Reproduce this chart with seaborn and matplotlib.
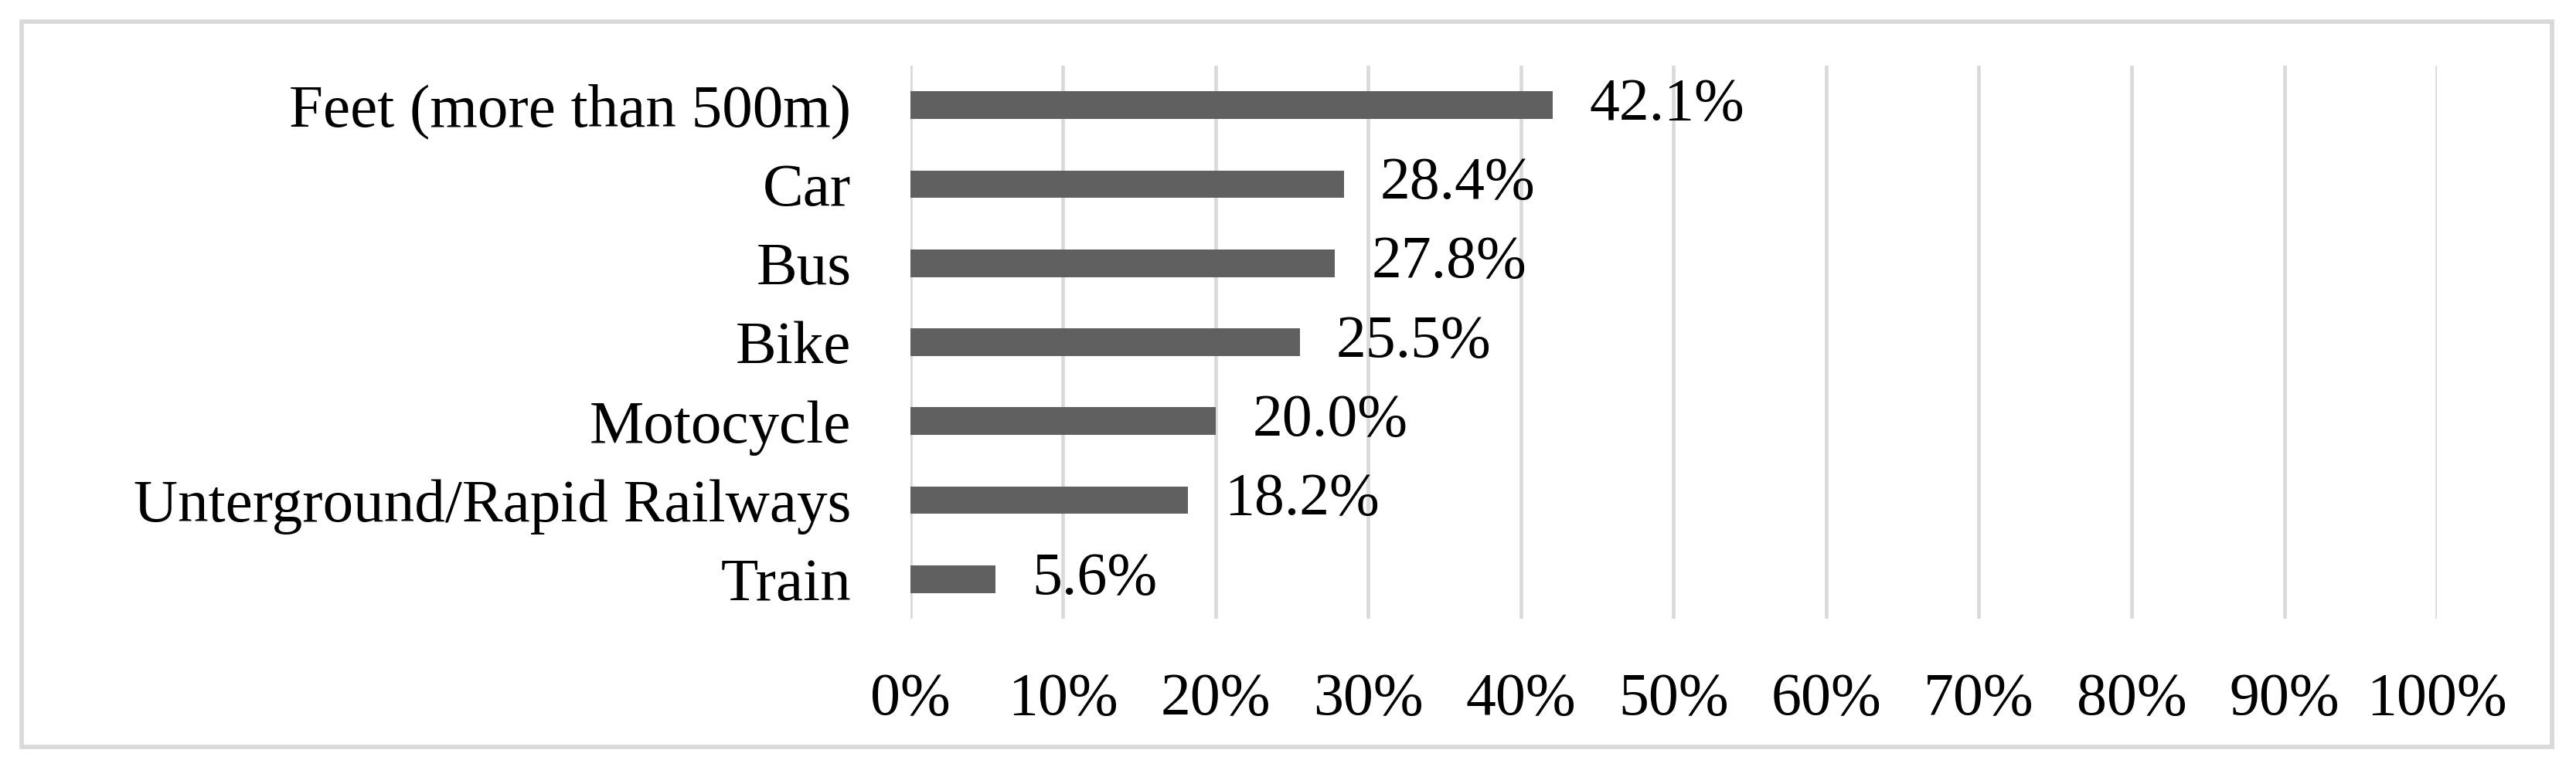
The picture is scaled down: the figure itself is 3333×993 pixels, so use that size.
import matplotlib
matplotlib.use('Agg')
import matplotlib.pyplot as plt
import seaborn as sns
from matplotlib.patches import Rectangle
from matplotlib.ticker import FuncFormatter

categories = ['Feet (more than 500m)', 'Car', 'Bus', 'Bike', 'Motocycle',
              'Unterground/Rapid Railways', 'Train']
values = [42.1, 28.4, 27.8, 25.5, 20.0, 18.2, 5.6]
x_ticks = list(range(0, 101, 10))

sns.set_style('white')
plt.rcParams['font.family'] = ['Liberation Serif', 'DejaVu Serif']
plt.rcParams['text.color'] = 'black'
plt.rcParams['xtick.color'] = 'black'
plt.rcParams['ytick.color'] = 'black'
fs = 56

fig = plt.figure(figsize=(33.33, 9.93), dpi=100)
ax = fig.add_axes([0.3534, 0.1934, 0.5926, 0.721])

sns.barplot(x=values, y=categories, color='#606060', width=0.35,
            saturation=1, linewidth=0, ax=ax, zorder=3)
ax.bar_label(ax.containers[0], labels=[f'{v:.1f}%' for v in values],
             padding=34, fontsize=fs, color='black')

ax.set_xlim(0, 100)
ax.set_ylim(6.5, -0.5)
ax.set_xticks(x_ticks)
ax.xaxis.set_major_formatter(FuncFormatter(lambda v, p: f'{v:.0f}%'))
ax.xaxis.grid(True, color='#d9d9d9', lw=3.3, zorder=0)
ax.set_axisbelow(True)
for s in ax.spines.values():
    s.set_visible(False)
ax.tick_params(axis='x', length=0, pad=50, labelsize=fs, labelcolor='black')
ax.tick_params(axis='y', length=0, pad=55, labelsize=57, labelcolor='black')
ax.set_xlabel('')
ax.set_ylabel('')

fig.patches.append(Rectangle((0.0084, 0.026), 0.9823, 0.9456, transform=fig.transFigure,
                             fill=False, ec='#d9d9d9', lw=4.1))

fig.savefig('out.png', dpi=100)
